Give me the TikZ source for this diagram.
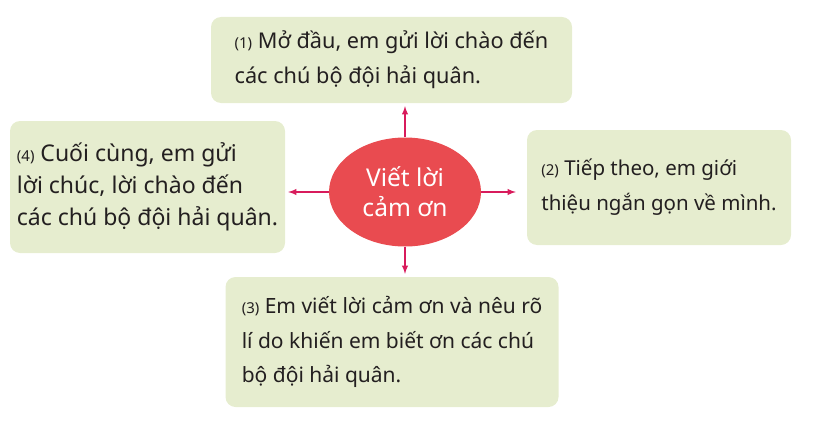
\documentclass[tikz,border=0pt]{standalone}
\usepackage{fontspec}
\setmainfont{Noto Sans}
\usetikzlibrary{shapes.geometric}
\definecolor{boxgreen}{HTML}{E6EDCF}
\definecolor{ovalred}{HTML}{E94B50}
\definecolor{arrowpink}{HTML}{D81B5C}
\definecolor{inkdark}{HTML}{231F20}
\newcommand{\numsize}{\fontsize{15}{18}\selectfont}
\tikzset{
  stepbox/.style={fill=boxgreen,rounded corners=10pt,align=left,text=inkdark,
    inner sep=0pt},
  textsize/.style 2 args={font=\fontsize{#1}{#2}\selectfont},
  centreoval/.style={ellipse,fill=ovalred,text=white,align=center,
    minimum width=152pt,minimum height=109pt,inner sep=0pt,
    font=\fontsize{24.5}{30}\selectfont},
  pointer/.style={->,>=latex,draw=arrowpink,line width=1.8pt,shorten >=3pt}
}
\begin{document}
\begin{tikzpicture}[x=1pt,y=-1pt]
        \useasboundingbox (0,0) rectangle (818,420);
        \node[centreoval] (main) at (405,192) {Viết lời\\cảm ơn};
        \node[stepbox,textsize={21.7}{35},minimum width=361pt,minimum height=86pt] (s1) at (391.5,60) {{\numsize(1)} Mở đầu, em gửi lời chào đến\\các chú bộ đội hải quân.};
        \draw[pointer] (main.north) -- (main.north |- s1.south);
        \node[stepbox,textsize={20.5}{35},minimum width=264pt,minimum height=115pt] (s2) at (659,187.5) {{\numsize(2)} Tiếp theo, em giới\\thiệu ngắn gọn về mình.};
        \draw[pointer,shorten >=11pt] (main.east) -- (main.east -| s2.west);
        \node[stepbox,textsize={21}{34.5},minimum width=333pt,minimum height=130pt] (s3) at (392,342) {{\numsize(3)} Em viết lời cảm ơn và nêu rõ\\lí do khiến em biết ơn các chú\\bộ đội hải quân.};
        \draw[pointer] (main.south) -- (main.south |- s3.north);
        \node[stepbox,textsize={23}{32},minimum width=275pt,minimum height=132pt] (s4) at (147.5,187) {{\numsize(4)} Cuối cùng, em gửi\\lời chúc, lời chào đến\\các chú bộ đội hải quân.};
        \draw[pointer] (main.west) -- (main.west -| s4.east);
\end{tikzpicture}
\end{document}
